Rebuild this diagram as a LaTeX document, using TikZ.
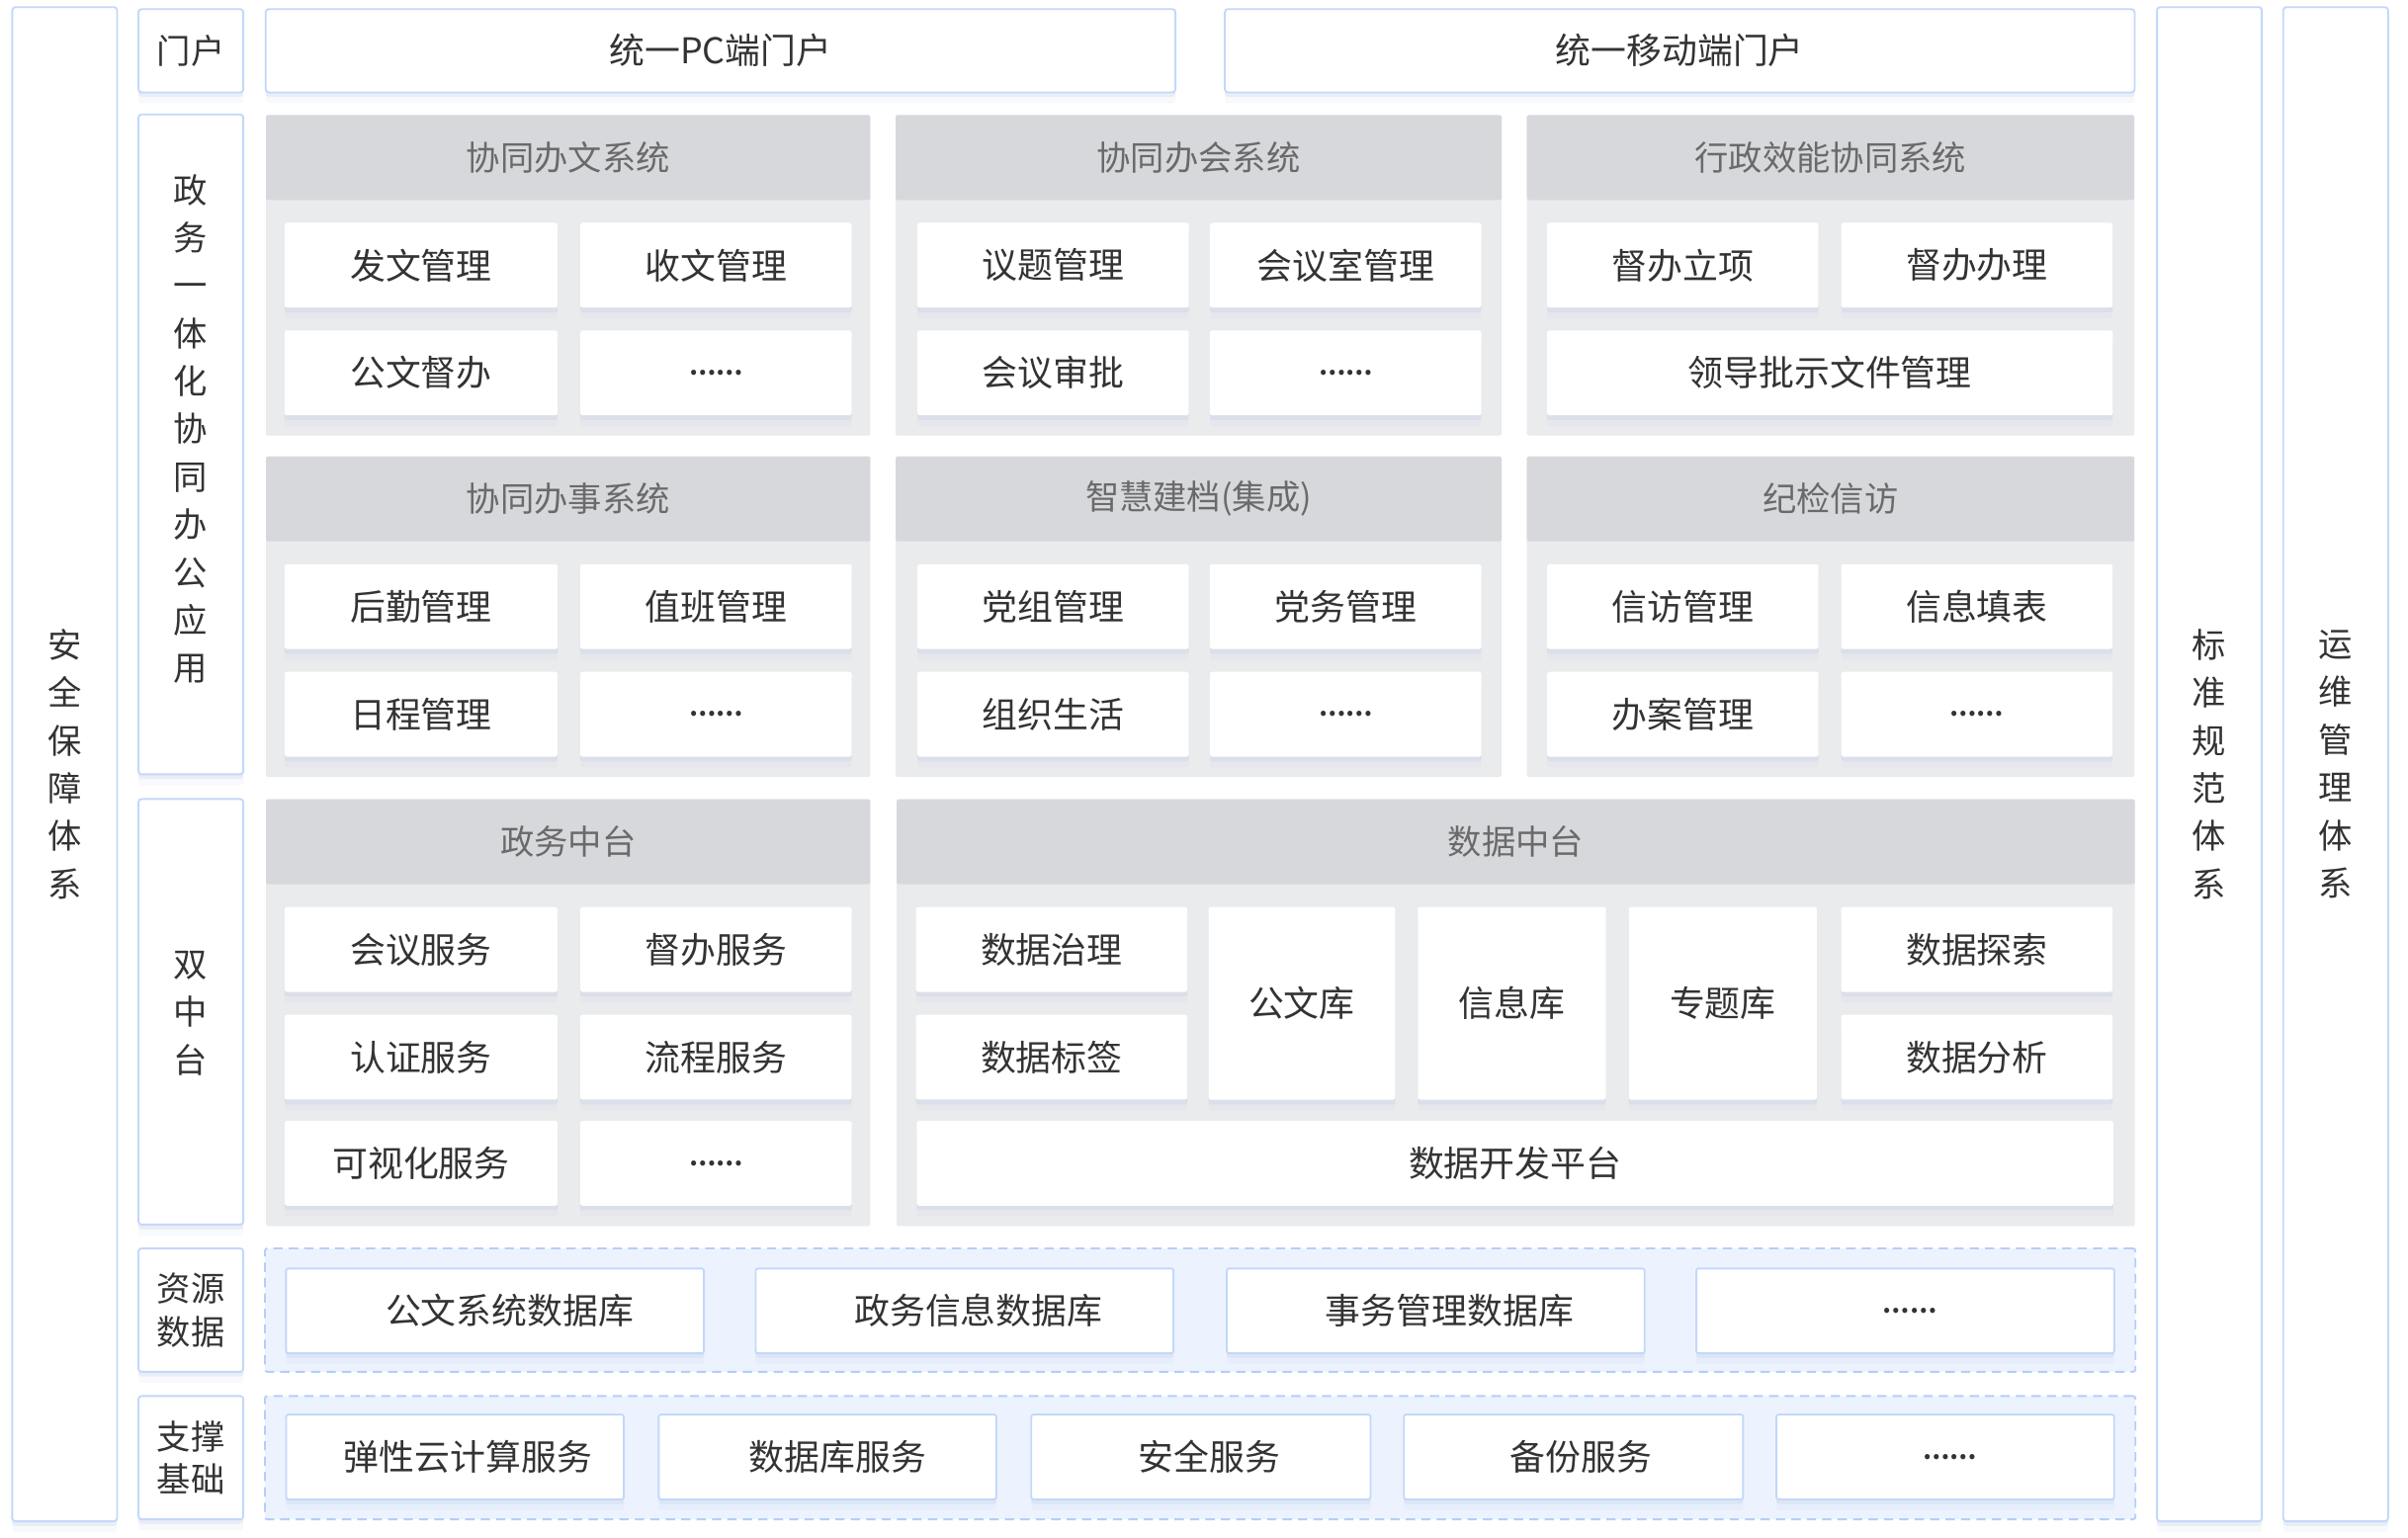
\documentclass[tikz,border=0pt]{standalone}
\usepackage{fontspec}
\setmainfont{Noto Sans CJK SC}
\usetikzlibrary{shadows}
\definecolor{bordc}{HTML}{C3D8FA}
\definecolor{hdrc}{HTML}{D7D8DB}
\definecolor{bodyc}{HTML}{EAEBED}
\definecolor{dashfill}{HTML}{EDF3FE}
\definecolor{dashc}{HTML}{B5CEF8}
\definecolor{textc}{HTML}{333333}
\definecolor{hdrtext}{HTML}{6A6A6A}
\definecolor{shadc}{HTML}{B9C6E4}
\newcommand{\bx}[7]{\node[#1, minimum width={#4-#2}, minimum height={#5-#3}] (#7) at ({(#2+#4)/2},{(#3+#5)/2}) {#6};}
\newcommand{\sh}[2]{\hspace*{#1pt}#2}
\newcommand{\dd}{{\fontsize{15.5}{18}\selectfont\bfseries ……}}
\begin{document}
\begin{tikzpicture}[x=0.9985pt,y=-0.9973pt,
  softshadow/.style={drop shadow={shadow xshift=0pt, shadow yshift=-3pt, opacity=0.22, fill=shadc},
                     drop shadow={shadow xshift=0pt, shadow yshift=-7pt, opacity=0.10, fill=shadc}},
  base/.style={inner sep=0pt, outer sep=0pt, text=textc, font=\fontsize{23}{27}\selectfont, align=center},
  frame/.style={base, draw=bordc, line width=1.2pt, fill=white, rounded corners=2pt, softshadow},
  vlabel/.style={base, font=\fontsize{22}{31}\selectfont},
  panelbody/.style={base, fill=bodyc, rounded corners=1pt},
  panelhead/.style={base, fill=hdrc, text=hdrtext, rounded corners=1pt, font=\fontsize{22}{26}\selectfont},
  item/.style={base, fill=white, rounded corners=1.5pt, softshadow},
  dbox/.style={item, draw=bordc, line width=1.2pt},
  dashzone/.style={base, draw=dashc, fill=dashfill, line width=1.2pt, dash pattern=on 6pt off 4pt, rounded corners=1.5pt}
]
\useasboundingbox (0,0) rectangle (1564,1000);
\fill[white] (0,0) rectangle (1564,1000);

% side frames
\bx{frame}{8}{6}{76}{988}{}{aq}
\node[vlabel] (aqt) at (42,497) {安\\全\\保\\障\\体\\系};
\bx{frame}{1401}{6}{1469}{988}{}{bz}
\node[vlabel] (bzt) at (1435,497) {标\\准\\规\\范\\体\\系};
\bx{frame}{1483}{6}{1551}{988}{}{yw}
\node[vlabel] (ywt) at (1517,497) {运\\维\\管\\理\\体\\系};

% left labels
\bx{frame, font=\fontsize{22}{26}\selectfont}{90}{6}{158}{60}{门户}{mh}
\bx{frame}{90}{75}{158}{503}{}{zw}
\node[vlabel] (zwt) at (124,279) {政\\务\\一\\体\\化\\协\\同\\办\\公\\应\\用};
\bx{frame}{90}{520}{158}{796}{}{sz}
\node[vlabel] (szt) at (124,659) {双\\中\\台};
\bx{frame}{90}{812}{158}{892}{}{zy}
\node[base, font=\fontsize{22}{28}\selectfont] (zyt) at (124,852) {资源\\数据};
\bx{frame}{90}{908}{158}{988}{}{zc}
\node[base, font=\fontsize{22}{28}\selectfont] (zct) at (124,948) {支撑\\基础};

% portals
\bx{frame}{173}{6}{763}{60}{统一PC端门户}{pc}
\bx{frame}{796}{6}{1386}{60}{统一移动端门户}{yd}

% row 1 panels
\bx{panelbody}{173}{75}{565}{283}{}{p1}
\bx{panelhead}{173}{75}{565}{130}{协同办文系统}{p1h}
\bx{item}{185}{145}{362}{200}{发文管理}{p1a}
\bx{item}{377}{145}{553}{200}{收文管理}{p1b}
\bx{item}{185}{215}{362}{270}{公文督办}{p1c}
\bx{item}{377}{215}{553}{270}{\dd}{p1d}

\bx{panelbody}{582}{75}{975}{283}{}{p2}
\bx{panelhead}{582}{75}{975}{130}{协同办会系统}{p2h}
\bx{item}{596}{145}{772}{200}{议题管理}{p2a}
\bx{item}{786}{145}{962}{200}{会议室管理}{p2b}
\bx{item}{596}{215}{772}{270}{会议审批}{p2c}
\bx{item}{786}{215}{962}{270}{\dd}{p2d}

\bx{panelbody}{992}{75}{1386}{283}{}{p3}
\bx{panelhead}{992}{75}{1386}{130}{行政效能协同系统}{p3h}
\bx{item}{1005}{145}{1181}{200}{督办立项}{p3a}
\bx{item}{1196}{145}{1372}{200}{督办办理}{p3b}
\bx{item}{1005}{215}{1372}{270}{领导批示文件管理}{p3c}

% row 2 panels
\bx{panelbody}{173}{297}{565}{505}{}{p4}
\bx{panelhead}{173}{297}{565}{352}{协同办事系统}{p4h}
\bx{item}{185}{367}{362}{422}{后勤管理}{p4a}
\bx{item}{377}{367}{553}{422}{值班管理}{p4b}
\bx{item}{185}{437}{362}{492}{日程管理}{p4c}
\bx{item}{377}{437}{553}{492}{\dd}{p4d}

\bx{panelbody}{582}{297}{975}{505}{}{p5}
\bx{panelhead}{582}{297}{975}{352}{智慧建档(集成)}{p5h}
\bx{item}{596}{367}{772}{422}{党组管理}{p5a}
\bx{item}{786}{367}{962}{422}{党务管理}{p5b}
\bx{item}{596}{437}{772}{492}{组织生活}{p5c}
\bx{item}{786}{437}{962}{492}{\dd}{p5d}

\bx{panelbody}{992}{297}{1386}{505}{}{p6}
\bx{panelhead}{992}{297}{1386}{352}{纪检信访}{p6h}
\bx{item}{1005}{367}{1181}{422}{信访管理}{p6a}
\bx{item}{1196}{367}{1372}{422}{信息填表}{p6b}
\bx{item}{1005}{437}{1181}{492}{办案管理}{p6c}
\bx{item}{1196}{437}{1372}{492}{\dd}{p6d}

% row 3 panels
\bx{panelbody}{173}{520}{565}{797}{}{p7}
\bx{panelhead}{173}{520}{565}{575}{政务中台}{p7h}
\bx{item}{185}{590}{362}{645}{会议服务}{p7a}
\bx{item}{377}{590}{553}{645}{督办服务}{p7b}
\bx{item}{185}{660}{362}{715}{认证服务}{p7c}
\bx{item}{377}{660}{553}{715}{流程服务}{p7d}
\bx{item}{185}{729}{362}{784}{可视化服务}{p7e}
\bx{item}{377}{729}{553}{784}{\dd}{p7f}

\bx{panelbody}{583}{520}{1386}{797}{}{p8}
\bx{panelhead}{583}{520}{1386}{575}{数据中台}{p8h}
\bx{item}{595}{590}{771}{645}{数据治理}{p8a}
\bx{item}{595}{660}{771}{715}{数据标签}{p8b}
\bx{item}{785}{590}{906}{715}{公文库}{p8c}
\bx{item}{921}{590}{1043}{715}{信息库}{p8d}
\bx{item}{1058}{590}{1180}{715}{专题库}{p8e}
\bx{item}{1196}{590}{1372}{645}{数据探索}{p8f}
\bx{item}{1196}{660}{1372}{715}{数据分析}{p8g}
\bx{item}{596}{729}{1372}{784}{数据开发平台}{p8h2}

% resource data
\bx{dashzone}{173}{812}{1386}{892}{}{rz}
\bx{dbox}{186}{825}{457}{880}{\sh{19}{公文系统数据库}}{r1}
\bx{dbox}{491}{825}{762}{880}{\sh{18}{政务信息数据库}}{r2}
\bx{dbox}{797}{825}{1068}{880}{\sh{18}{事务管理数据库}}{r3}
\bx{dbox}{1102}{825}{1373}{880}{\sh{6}{\dd}}{r4}

% support
\bx{dashzone}{173}{908}{1386}{988}{}{sz2}
\bx{dbox}{186}{920}{405}{975}{\sh{17}{弹性云计算服务}}{s1}
\bx{dbox}{428}{920}{647}{975}{\sh{13}{数据库服务}}{s2}
\bx{dbox}{670}{920}{890}{975}{\sh{11}{安全服务}}{s3}
\bx{dbox}{912}{920}{1132}{975}{\sh{10}{备份服务}}{s4}
\bx{dbox}{1154}{920}{1373}{975}{\sh{6}{\dd}}{s5}
\end{tikzpicture}
\end{document}
